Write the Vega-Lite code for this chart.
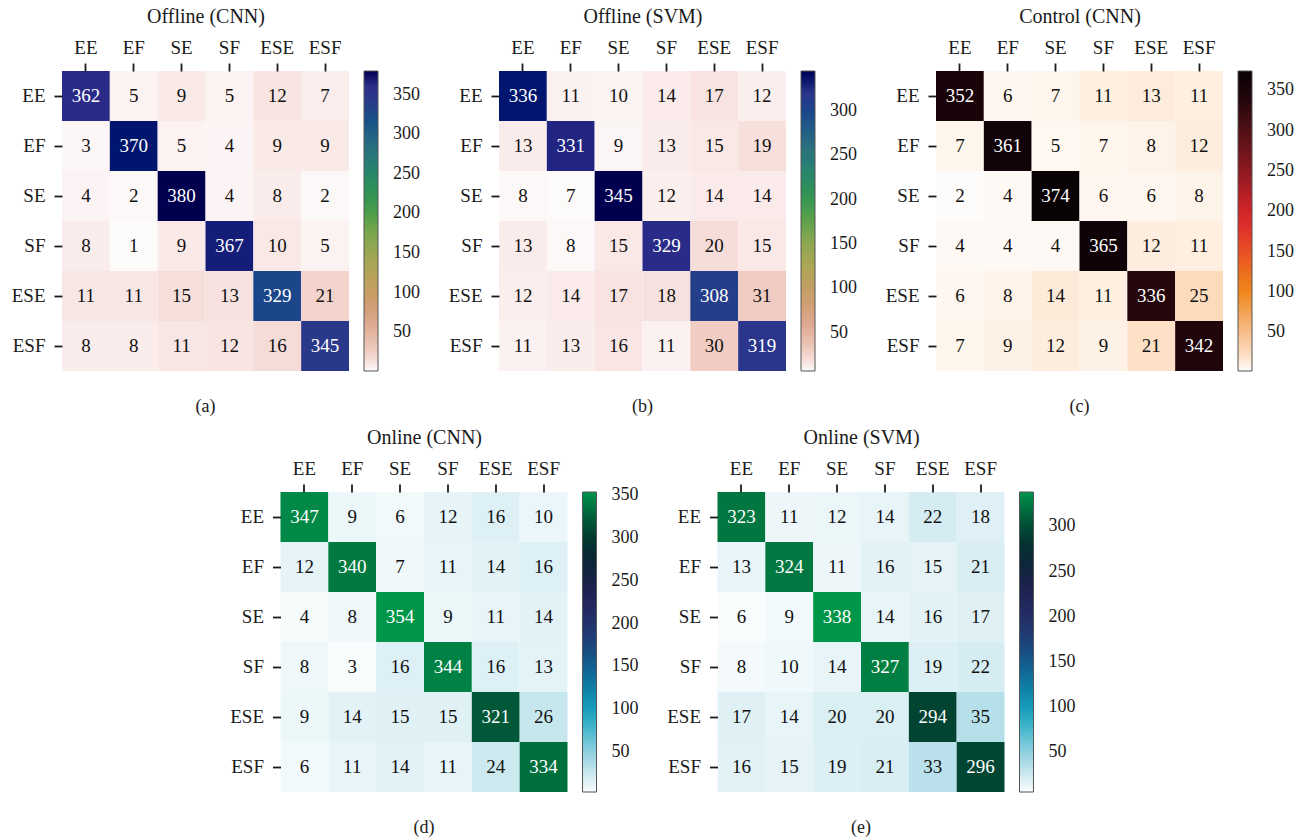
{
  "$schema": "https://vega.github.io/schema/vega-lite/v6.json",
  "background": "white",
  "padding": {"left": 11, "top": 6, "right": 5, "bottom": 5},
  "datasets": {
    "offlineCnn": [
      {"actual": "EE", "EE": 362, "EF": 5, "SE": 9, "SF": 5, "ESE": 12, "ESF": 7},
      {"actual": "EF", "EE": 3, "EF": 370, "SE": 5, "SF": 4, "ESE": 9, "ESF": 9},
      {"actual": "SE", "EE": 4, "EF": 2, "SE": 380, "SF": 4, "ESE": 8, "ESF": 2},
      {"actual": "SF", "EE": 8, "EF": 1, "SE": 9, "SF": 367, "ESE": 10, "ESF": 5},
      {"actual": "ESE", "EE": 11, "EF": 11, "SE": 15, "SF": 13, "ESE": 329, "ESF": 21},
      {"actual": "ESF", "EE": 8, "EF": 8, "SE": 11, "SF": 12, "ESE": 16, "ESF": 345}
    ],
    "offlineSvm": [
      {"actual": "EE", "EE": 336, "EF": 11, "SE": 10, "SF": 14, "ESE": 17, "ESF": 12},
      {"actual": "EF", "EE": 13, "EF": 331, "SE": 9, "SF": 13, "ESE": 15, "ESF": 19},
      {"actual": "SE", "EE": 8, "EF": 7, "SE": 345, "SF": 12, "ESE": 14, "ESF": 14},
      {"actual": "SF", "EE": 13, "EF": 8, "SE": 15, "SF": 329, "ESE": 20, "ESF": 15},
      {"actual": "ESE", "EE": 12, "EF": 14, "SE": 17, "SF": 18, "ESE": 308, "ESF": 31},
      {"actual": "ESF", "EE": 11, "EF": 13, "SE": 16, "SF": 11, "ESE": 30, "ESF": 319}
    ],
    "controlCnn": [
      {"actual": "EE", "EE": 352, "EF": 6, "SE": 7, "SF": 11, "ESE": 13, "ESF": 11},
      {"actual": "EF", "EE": 7, "EF": 361, "SE": 5, "SF": 7, "ESE": 8, "ESF": 12},
      {"actual": "SE", "EE": 2, "EF": 4, "SE": 374, "SF": 6, "ESE": 6, "ESF": 8},
      {"actual": "SF", "EE": 4, "EF": 4, "SE": 4, "SF": 365, "ESE": 12, "ESF": 11},
      {"actual": "ESE", "EE": 6, "EF": 8, "SE": 14, "SF": 11, "ESE": 336, "ESF": 25},
      {"actual": "ESF", "EE": 7, "EF": 9, "SE": 12, "SF": 9, "ESE": 21, "ESF": 342}
    ],
    "onlineCnn": [
      {"actual": "EE", "EE": 347, "EF": 9, "SE": 6, "SF": 12, "ESE": 16, "ESF": 10},
      {"actual": "EF", "EE": 12, "EF": 340, "SE": 7, "SF": 11, "ESE": 14, "ESF": 16},
      {"actual": "SE", "EE": 4, "EF": 8, "SE": 354, "SF": 9, "ESE": 11, "ESF": 14},
      {"actual": "SF", "EE": 8, "EF": 3, "SE": 16, "SF": 344, "ESE": 16, "ESF": 13},
      {"actual": "ESE", "EE": 9, "EF": 14, "SE": 15, "SF": 15, "ESE": 321, "ESF": 26},
      {"actual": "ESF", "EE": 6, "EF": 11, "SE": 14, "SF": 11, "ESE": 24, "ESF": 334}
    ],
    "onlineSvm": [
      {"actual": "EE", "EE": 323, "EF": 11, "SE": 12, "SF": 14, "ESE": 22, "ESF": 18},
      {"actual": "EF", "EE": 13, "EF": 324, "SE": 11, "SF": 16, "ESE": 15, "ESF": 21},
      {"actual": "SE", "EE": 6, "EF": 9, "SE": 338, "SF": 14, "ESE": 16, "ESF": 17},
      {"actual": "SF", "EE": 8, "EF": 10, "SE": 14, "SF": 327, "ESE": 19, "ESF": 22},
      {"actual": "ESE", "EE": 17, "EF": 14, "SE": 20, "SF": 20, "ESE": 294, "ESF": 35},
      {"actual": "ESF", "EE": 16, "EF": 15, "SE": 19, "SF": 21, "ESE": 33, "ESF": 296}
    ]
  },
  "vconcat": [
    {
      "spacing": 28,
      "resolve": {"scale": {"color": "independent"}, "legend": {"color": "independent"}},
      "hconcat": [
        {
          "data": {"name": "offlineCnn"},
          "transform": [{"fold": ["EE", "EF", "SE", "SF", "ESE", "ESF"], "as": ["predicted", "count"]}],
          "width": 287, "height": 300,
          "title": {"text": "(a)"},
          "encoding": {
            "x": {"field": "predicted", "type": "nominal", "sort": ["EE", "EF", "SE", "SF", "ESE", "ESF"], "axis": {"title": "Offline (CNN)"}},
            "y": {"field": "actual", "type": "nominal", "sort": ["EE", "EF", "SE", "SF", "ESE", "ESF"], "axis": {"title": null}}
          },
          "layer": [
            {"mark": {"type": "rect"}, "encoding": {"color": {"field": "count", "type": "quantitative", "title": null,
              "scale": {"range": ["#fdfafa", "#f3d4ce", "#e8bfae", "#deab93", "#d4a07c", "#c99d68", "#bda15c", "#ada656", "#98a752", "#7fa74e", "#5fa24a", "#3d9a4a", "#2d9154", "#2c8866", "#2c7b76", "#2a6e80", "#245e86", "#174b88", "#2a3a8a", "#2e2e8c", "#000000"]},
              "legend": {"values": [50, 100, 150, 200, 250, 300, 350], "labelOffset": 15}}}},
            {"mark": {"type": "text", "font": "Liberation Serif", "fontSize": 19}, "encoding": {"text": {"field": "count", "type": "quantitative"},
              "color": {"condition": {"test": "datum.count > 150", "value": "white"}, "value": "#111"}}}
          ]
        },
        {
          "data": {"name": "offlineSvm"},
          "transform": [{"fold": ["EE", "EF", "SE", "SF", "ESE", "ESF"], "as": ["predicted", "count"]}],
          "width": 287, "height": 300,
          "title": {"text": "(b)"},
          "encoding": {
            "x": {"field": "predicted", "type": "nominal", "sort": ["EE", "EF", "SE", "SF", "ESE", "ESF"], "axis": {"title": "Offline (SVM)"}},
            "y": {"field": "actual", "type": "nominal", "sort": ["EE", "EF", "SE", "SF", "ESE", "ESF"], "axis": {"title": null}}
          },
          "layer": [
            {"mark": {"type": "rect"}, "encoding": {"color": {"field": "count", "type": "quantitative", "title": null,
              "scale": {"range": ["#fdfafa", "#f3d4ce", "#e8bfae", "#deab93", "#d4a07c", "#c99d68", "#bda15c", "#ada656", "#98a752", "#7fa74e", "#5fa24a", "#3d9a4a", "#2d9154", "#2c8866", "#2c7b76", "#2a6e80", "#245e86", "#174b88", "#2a3a8a", "#2e2e8c", "#000000"]},
              "legend": {"values": [50, 100, 150, 200, 250, 300], "labelOffset": 15}}}},
            {"mark": {"type": "text", "font": "Liberation Serif", "fontSize": 19}, "encoding": {"text": {"field": "count", "type": "quantitative"},
              "color": {"condition": {"test": "datum.count > 150", "value": "white"}, "value": "#111"}}}
          ]
        },
        {
          "data": {"name": "controlCnn"},
          "transform": [{"fold": ["EE", "EF", "SE", "SF", "ESE", "ESF"], "as": ["predicted", "count"]}],
          "width": 287, "height": 300,
          "title": {"text": "(c)"},
          "encoding": {
            "x": {"field": "predicted", "type": "nominal", "sort": ["EE", "EF", "SE", "SF", "ESE", "ESF"], "axis": {"title": "Control (CNN)"}},
            "y": {"field": "actual", "type": "nominal", "sort": ["EE", "EF", "SE", "SF", "ESE", "ESF"], "axis": {"title": null}}
          },
          "layer": [
            {"mark": {"type": "rect"}, "encoding": {"color": {"field": "count", "type": "quantitative", "title": null,
              "scale": {"range": ["#fefcfa", "#fde0c6", "#f9c9a0", "#f5b57c", "#f2a050", "#f08c1e", "#ee7a18", "#eb6420", "#e84e26", "#e33a2a", "#dc2a2c", "#c92228", "#b01e24", "#961a22", "#7e171e", "#68131a", "#521015", "#3a0b10", "#24060b", "#140307", "#0a0306"]},
              "legend": {"values": [50, 100, 150, 200, 250, 300, 350], "labelOffset": 15}}}},
            {"mark": {"type": "text", "font": "Liberation Serif", "fontSize": 19}, "encoding": {"text": {"field": "count", "type": "quantitative"},
              "color": {"condition": {"test": "datum.count > 150", "value": "white"}, "value": "#111"}}}
          ]
        }
      ]
    },
    {
      "spacing": 28,
      "resolve": {"scale": {"color": "independent"}, "legend": {"color": "independent"}},
      "hconcat": [
        {
          "data": {"name": "onlineCnn"},
          "transform": [{"fold": ["EE", "EF", "SE", "SF", "ESE", "ESF"], "as": ["predicted", "count"]}],
          "width": 287, "height": 300,
          "title": {"text": "(d)"},
          "encoding": {
            "x": {"field": "predicted", "type": "nominal", "sort": ["EE", "EF", "SE", "SF", "ESE", "ESF"], "axis": {"title": "Online (CNN)"}},
            "y": {"field": "actual", "type": "nominal", "sort": ["EE", "EF", "SE", "SF", "ESE", "ESF"], "axis": {"title": null}}
          },
          "layer": [
            {"mark": {"type": "rect"}, "encoding": {"color": {"field": "count", "type": "quantitative", "title": null,
              "scale": {"range": ["#f8fcfd", "#d4ecf2", "#aadbe6", "#80cbdb", "#4cbace", "#20aac4", "#1294b5", "#0f7ea5", "#106896", "#165486", "#1d4279", "#22336d", "#232a62", "#1f2456", "#1a2249", "#13253c", "#0c2a30", "#053a2e", "#005437", "#00733f", "#00964a"]},
              "legend": {"values": [50, 100, 150, 200, 250, 300, 350], "labelOffset": 15}}}},
            {"mark": {"type": "text", "font": "Liberation Serif", "fontSize": 19}, "encoding": {"text": {"field": "count", "type": "quantitative"},
              "color": {"condition": {"test": "datum.count > 150", "value": "white"}, "value": "#111"}}}
          ]
        },
        {
          "data": {"name": "onlineSvm"},
          "transform": [{"fold": ["EE", "EF", "SE", "SF", "ESE", "ESF"], "as": ["predicted", "count"]}],
          "width": 287, "height": 300,
          "title": {"text": "(e)"},
          "encoding": {
            "x": {"field": "predicted", "type": "nominal", "sort": ["EE", "EF", "SE", "SF", "ESE", "ESF"], "axis": {"title": "Online (SVM)"}},
            "y": {"field": "actual", "type": "nominal", "sort": ["EE", "EF", "SE", "SF", "ESE", "ESF"], "axis": {"title": null}}
          },
          "layer": [
            {"mark": {"type": "rect"}, "encoding": {"color": {"field": "count", "type": "quantitative", "title": null,
              "scale": {"range": ["#f8fcfd", "#d4ecf2", "#aadbe6", "#80cbdb", "#4cbace", "#20aac4", "#1294b5", "#0f7ea5", "#106896", "#165486", "#1d4279", "#22336d", "#232a62", "#1f2456", "#1a2249", "#13253c", "#0c2a30", "#053a2e", "#005437", "#00733f", "#00964a"]},
              "legend": {"values": [50, 100, 150, 200, 250, 300], "labelOffset": 15}}}},
            {"mark": {"type": "text", "font": "Liberation Serif", "fontSize": 19}, "encoding": {"text": {"field": "count", "type": "quantitative"},
              "color": {"condition": {"test": "datum.count > 150", "value": "white"}, "value": "#111"}}}
          ]
        }
      ]
    }
  ],
  "center": true,
  "spacing": 11,
  "resolve": {"scale": {"color": "independent"}, "legend": {"color": "independent"}},
  "config": {
    "font": "Liberation Serif",
    "view": {"stroke": null},
    "axis": {
      "labelFont": "Liberation Serif", "labelFontSize": 19, "labelColor": "#1a1a1a",
      "tickColor": "#1a1a1a", "tickSize": 8, "tickWidth": 1.8, "domain": false, "grid": false,
      "titleFont": "Liberation Serif", "titleFontSize": 20, "titleFontWeight": "normal", "titleColor": "#1a1a1a"
    },
    "axisX": {"orient": "top", "labelAngle": 0, "labelPadding": 6, "titlePadding": 12},
    "axisY": {"labelPadding": 9},
    "legend": {
      "gradientLength": 300, "gradientThickness": 14, "gradientStrokeColor": "#555", "gradientStrokeWidth": 1,
      "labelFont": "Liberation Serif", "labelFontSize": 18, "labelColor": "#1a1a1a",
      "offset": 15, "padding": 0, "labelFlush": false
    },
    "title": {"orient": "bottom", "frame": "group", "anchor": "middle", "font": "Liberation Serif", "fontSize": 18, "fontWeight": "normal", "color": "#1a1a1a", "offset": 26}
  }
}
